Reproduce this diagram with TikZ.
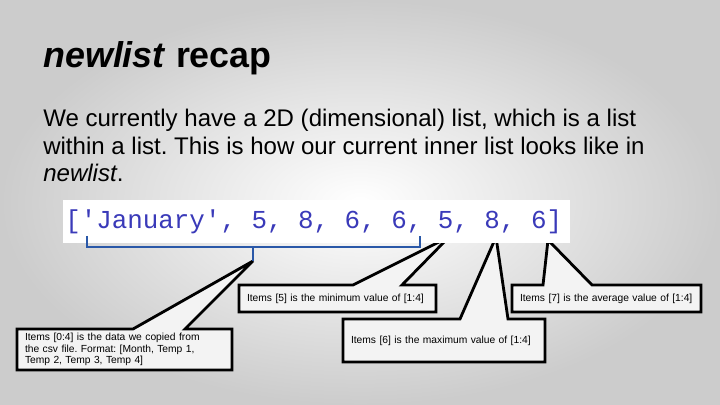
\documentclass[tikz,border=0pt]{standalone}
\usepackage{fontspec}
\setmainfont{Liberation Sans}
\newfontfamily\listfont{Liberation Mono}
\usetikzlibrary{calc,backgrounds}
\frenchspacing

\definecolor{listblue}{RGB}{58,58,185}
\definecolor{bracecol}{RGB}{42,88,168}
\definecolor{boxfill}{RGB}{243,243,243}

\tikzset{
  callbox/.style={anchor=north west, inner xsep=0.2cm, inner ysep=0pt, outer sep=0pt,
    align=left, font=\fontsize{7.3}{8.4}\selectfont},
  callline/.style={draw=black, fill=boxfill, line width=2pt, miter limit=3},
  bodytext/.style={anchor=base west, inner sep=0pt, font=\fontsize{17.1}{20}\selectfont}
}

\begin{document}
\begin{tikzpicture}[x=0.025cm, y=-0.025cm]
    \useasboundingbox (0,0) rectangle (720,405);
    \begin{scope}[on background layer]
        \shade[inner color=white, outer color=black!20] (0,0) rectangle (720,405);
    \end{scope}

    % title and text
    \node[anchor=base west, inner sep=0pt, font=\fontsize{25.5}{30}\selectfont\bfseries] (title) at (43,68) {\textit{newlist} recap};
    \node[bodytext] (line1) at (43,127) {We currently have a 2D (dimensional) list, which is a list};
    \node[bodytext] (line2) at (43,155) {within a list. This is how our current inner list looks like in};
    \node[bodytext] (line3) at (43,182) {\textit{newlist}.};

    % the list
    \node[fill=white, inner sep=0pt, minimum width=507*0.025cm, minimum height=43*0.025cm] (strip) at (316.5,221.5) {};
    \node[anchor=base west, inner sep=0pt, text=listblue, font=\listfont\fontsize{18.4}{20}\selectfont] (list) at (65,229) {['January', 5, 8, 6, 6, 5, 8, 6]};

    % brace
    \coordinate (bl) at (87,236);
    \coordinate (br) at (420,236);
    \coordinate (bm) at (253,247);
    \draw[bracecol, line width=1.5pt] (bl) -- ++(0,11) -| (br);

    % pointer tips
    \coordinate (ptr0) at (253,261);
    \coordinate (ptr5) at (449,237);
    \coordinate (ptr6) at (496,237);
    \coordinate (ptr7) at (548,240);
    \draw[bracecol, line width=1.5pt] (bm) -- (ptr0);

    % callouts
    \node[callbox, text width=199*0.025cm, minimum height=41*0.025cm] (c0) at (17,329)
        {Items [0:4] is the data we copied from\\the csv file. Format: [Month, Temp 1,\\Temp 2, Temp 3, Temp 4]};
    \node[callbox, text width=181*0.025cm, minimum height=27*0.025cm] (c5) at (239,285)
        {Items [5] is the minimum value of [1:4]};
    \node[callbox, text width=173*0.025cm, minimum height=27*0.025cm] (c7) at (512,285)
        {Items [7] is the average value of [1:4]};
    \node[callbox, text width=186*0.025cm, minimum height=43*0.025cm] (c6) at (343,319)
        {Items [6] is the maximum value of [1:4]};

    \begin{scope}[on background layer]
        \draw[callline] (c0.north west) -- ($(c0.north west)+(116,0)$) -- (ptr0)
            -- ($(c0.north west)+(168,0)$) -- (c0.north east) -- (c0.south east) -- (c0.south west) -- cycle;
        \draw[callline] (c5.north west) -- ($(c5.north west)+(114,0)$) -- (ptr5)
            -- ($(c5.north west)+(163,0)$) -- (c5.north east) -- (c5.south east) -- (c5.south west) -- cycle;
        \draw[callline] (c7.north west) -- ($(c7.north west)+(31,0)$) -- (ptr7)
            -- ($(c7.north west)+(80,0)$) -- (c7.north east) -- (c7.south east) -- (c7.south west) -- cycle;
        \draw[callline] (c6.north west) -- ($(c6.north west)+(117,0)$) -- (ptr6)
            -- ($(c6.north west)+(165,0)$) -- (c6.north east) -- (c6.south east) -- (c6.south west) -- cycle;
    \end{scope}
\end{tikzpicture}
\end{document}
